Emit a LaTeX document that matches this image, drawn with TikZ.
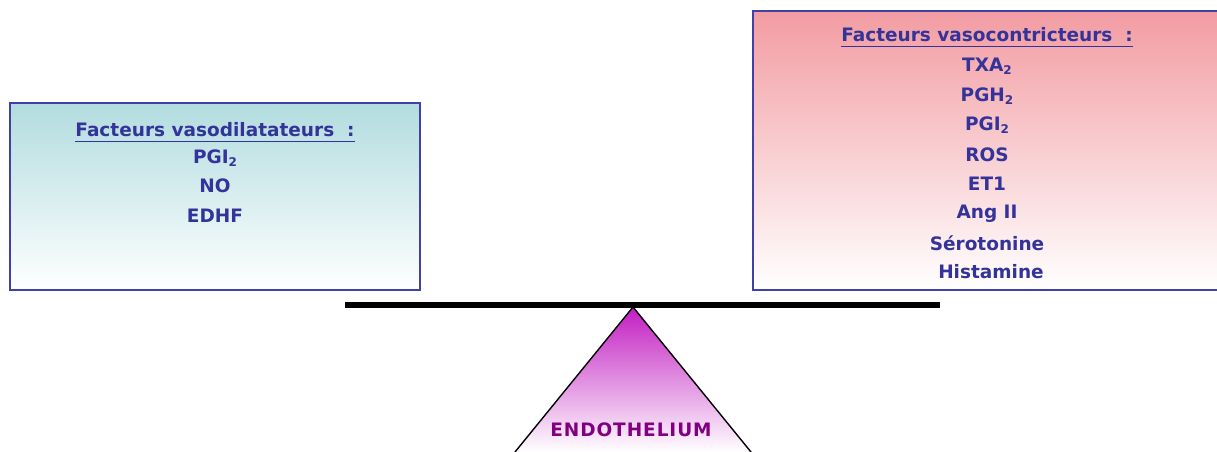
\documentclass[tikz,border=0pt]{standalone}
\usepackage{fontspec}
\setmainfont{DejaVu Sans}
\usetikzlibrary{calc}
\definecolor{txtblue}{HTML}{333399}
\definecolor{bordblue}{HTML}{4040A8}
\definecolor{teal0}{HTML}{B2DCDF}
\definecolor{pink0}{HTML}{F29CA2}
\definecolor{mag0}{HTML}{C21EC2}
\definecolor{purp}{HTML}{800080}
\tikzset{
  box/.style={draw=bordblue, line width=1.6pt, rectangle, inner sep=0pt},
  lbl/.style={text=txtblue, font=\fontsize{18.5}{22}\selectfont\bfseries, inner sep=0pt, anchor=center},
  ttl/.style={lbl},
  uline/.style={draw=txtblue, line width=1.5pt},
}
\newcommand{\subtwo}[1]{#1\raisebox{-0.3ex}{\fontsize{12}{14}\selectfont 2}}
\begin{document}
\begin{tikzpicture}[x=1pt,y=-1pt]
\useasboundingbox (0,0) rectangle (1217,452);
\clip (0,0) rectangle (1217,452);
% left box
\node[box, top color=teal0, bottom color=white, minimum width=410pt, minimum height=187pt] (lbox) at (215,196.5) {};
\node[ttl] (lt) at (215,130) {Facteurs vasodilatateurs\ \ :};
\draw[uline] ([yshift=-4.5pt]lt.base west) -- ([yshift=-4.5pt]lt.base east);
\node[lbl] (l1) at (215,158) {\subtwo{PGI}};
\node[lbl] (l2) at (215,186) {NO};
\node[lbl] (l3) at (215,216) {EDHF};
% right box
\node[box, top color=pink0, bottom color=white, minimum width=472pt, minimum height=279pt] (rbox) at (989,150.5) {};
\node[ttl] (rt) at (987,35) {Facteurs vasocontricteurs\ \ :};
\draw[uline] ([yshift=-4.5pt]rt.base west) -- ([yshift=-4.5pt]rt.base east);
\node[lbl] (r1) at (987,66) {\subtwo{TXA}};
\node[lbl] (r2) at (987,96) {\subtwo{PGH}};
\node[lbl] (r3) at (987,125) {\subtwo{PGI}};
\node[lbl] (r4) at (987,155) {ROS};
\node[lbl] (r5) at (987,184) {ET1};
\node[lbl] (r6) at (987,214) {Ang II};
\node[lbl] (r7) at (987,243) {Sérotonine};
\node[lbl] (r8) at (991,272) {Histamine};
% triangle
\coordinate (apex) at (633,307);
\coordinate (bl) at (515,452);
\coordinate (br) at (751,452);
\shade[top color=mag0, bottom color=white] (apex) -- (bl) -- (br) -- cycle;
\draw[line width=1.4pt] (bl) -- (apex) -- (br);
% beam
\coordinate (bmL) at (345,305);
\coordinate (bmR) at (940,305);
\draw[line width=6pt] (bmL) -- (bmR);
\node[text=purp, font=\fontsize{18.5}{22}\selectfont\bfseries\addfontfeature{LetterSpace=5}, inner sep=0pt] (endo) at (631,430) {ENDOTHELIUM};
\end{tikzpicture}
\end{document}
